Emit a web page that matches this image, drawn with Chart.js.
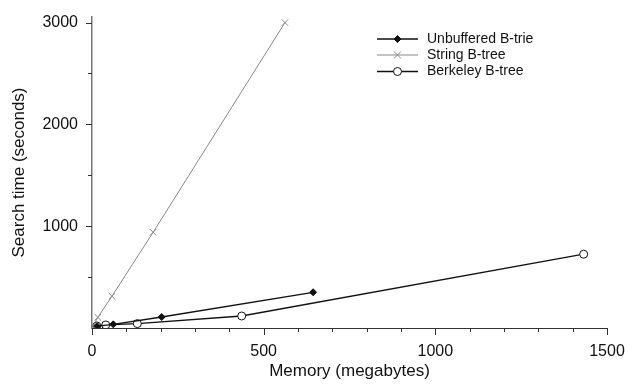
<!DOCTYPE html>
<html>
<head>
<meta charset="utf-8">
<script src="https://cdn.jsdelivr.net/npm/chart.js@4/dist/chart.umd.min.js"></script>
<style>
  html,body{margin:0;padding:0;background:#fff;}
  #wrap{width:629px;height:387px;position:relative;}
</style>
</head>
<body>
<div id="wrap"><canvas id="c" width="629" height="387"></canvas></div>
<script>
// ---- data ----
const seriesNames = ['Unbuffered B-trie', 'String B-tree', 'Berkeley B-tree'];
const trieX = [15, 62, 203, 644];
const trieY = [18, 36, 108, 351];
const stringX = [2, 17, 58, 178, 562];
const stringY = [15, 105, 312, 940, 3000];
const berkX = [14, 40, 132, 436, 1432];
const berkY = [20, 30, 43, 118, 725];

const xMajorTicks = [0, 500, 1000, 1500];
const xMinorTicks = [100, 200, 300, 400, 600, 700, 800, 900, 1100, 1200, 1300, 1400];
const yMajorTicks = [1000, 2000, 3000];
const yMinorTicks = [500, 1500, 2500];
const xTitle = 'Memory (megabytes)';
const yTitle = 'Search time (seconds)';

const zip = (xs, ys) => xs.map((x, i) => ({x: x, y: ys[i]}));
const FONT = 'Liberation Sans, Arial, Helvetica, sans-serif';

const tickMarks = {
  id: 'tickMarks',
  afterDraw(chart) {
    const ctx = chart.ctx;
    const xs = chart.scales.x, ys = chart.scales.y;
    const y0 = ys.bottom, x0 = xs.left;
    ctx.save();
    ctx.strokeStyle = '#333';
    ctx.lineWidth = 1;
    ctx.beginPath();
    xMajorTicks.forEach(v => { const p = Math.round(xs.getPixelForValue(v)) + 0.5; ctx.moveTo(p, y0); ctx.lineTo(p, y0 + 7); });
    xMinorTicks.forEach(v => { const p = Math.round(xs.getPixelForValue(v)) + 0.5; ctx.moveTo(p, y0); ctx.lineTo(p, y0 + 4); });
    yMajorTicks.forEach(v => { const p = Math.round(ys.getPixelForValue(v)) + 0.5; ctx.moveTo(x0, p); ctx.lineTo(x0 - 6, p); });
    yMinorTicks.forEach(v => { const p = Math.round(ys.getPixelForValue(v)) + 0.5; ctx.moveTo(x0, p); ctx.lineTo(x0 - 4, p); });
    ctx.stroke();
    ctx.restore();
  }
};

function drawMarker(ctx, style, x, y, r, stroke, fill) {
  ctx.beginPath();
  if (style === 'rectRot') {
    ctx.moveTo(x, y - r); ctx.lineTo(x + r, y); ctx.lineTo(x, y + r); ctx.lineTo(x - r, y); ctx.closePath();
    ctx.fillStyle = fill; ctx.fill(); ctx.strokeStyle = stroke; ctx.stroke();
  } else if (style === 'crossRot') {
    const d = r * 0.75;
    ctx.moveTo(x - d, y - d); ctx.lineTo(x + d, y + d);
    ctx.moveTo(x + d, y - d); ctx.lineTo(x - d, y + d);
    ctx.strokeStyle = stroke; ctx.stroke();
  } else {
    ctx.arc(x, y, r, 0, Math.PI * 2);
    ctx.fillStyle = fill; ctx.fill(); ctx.strokeStyle = stroke; ctx.stroke();
  }
}

const customLegend = {
  id: 'customLegend',
  afterDraw(chart) {
    const ctx = chart.ctx;
    ctx.save();
    const lx0 = 377, lx1 = 418, tx = 427;
    const rows = [39, 55, 71.5];
    chart.data.datasets.forEach((ds, i) => {
      const y = rows[i];
      ctx.lineWidth = ds.borderWidth;
      ctx.strokeStyle = ds.borderColor;
      ctx.beginPath(); ctx.moveTo(lx0, y); ctx.lineTo(lx1, y); ctx.stroke();
      ctx.lineWidth = 1;
      drawMarker(ctx, ds.pointStyle, (lx0 + lx1) / 2, y, ds.pointRadius, ds.pointBorderColor, ds.pointBackgroundColor);
      ctx.fillStyle = '#111';
      ctx.font = '14px ' + FONT;
      ctx.textBaseline = 'middle';
      ctx.textAlign = 'left';
      ctx.fillText(ds.label, tx, y);
    });
    ctx.restore();
  }
};

new Chart(document.getElementById('c'), {
  type: 'scatter',
  data: {
    datasets: [
      { label: seriesNames[0], data: zip(trieX, trieY), showLine: true,
        borderColor: '#111', borderWidth: 1.3, pointStyle: 'rectRot', pointRadius: 3.5,
        pointBackgroundColor: '#111', pointBorderColor: '#111', pointBorderWidth: 1 },
      { label: seriesNames[1], data: zip(stringX, stringY), showLine: true,
        borderColor: '#8a8a8a', borderWidth: 1, pointStyle: 'crossRot', pointRadius: 4.5,
        pointBackgroundColor: '#8a8a8a', pointBorderColor: '#8a8a8a', pointBorderWidth: 1 },
      { label: seriesNames[2], data: zip(berkX, berkY), showLine: true,
        borderColor: '#111', borderWidth: 1.3, pointStyle: 'circle', pointRadius: 4,
        pointBackgroundColor: '#fff', pointBorderColor: '#111', pointBorderWidth: 1 }
    ]
  },
  options: {
    responsive: false,
    animation: false,
    events: [],
    layout: { padding: { left: 0, right: 22, top: 17, bottom: 0 } },
    plugins: { legend: { display: false }, tooltip: { enabled: false } },
    scales: {
      x: {
        type: 'linear', min: 0, max: 1500,
        afterFit(scale) { scale.height = 59; scale.paddingLeft = 0; scale.paddingRight = 0; },
        afterBuildTicks(scale) { scale.ticks = xMajorTicks.map(v => ({value: v})); },
        grid: { display: false, drawTicks: false },
        border: { display: true, color: '#333', width: 1 },
        ticks: { padding: 14, color: '#111', font: { family: FONT, size: 16 }, maxRotation: 0, autoSkip: false,
                 callback: v => String(v) },
        title: { display: true, text: xTitle, color: '#111', font: { family: FONT, size: 17 }, padding: { top: 0, bottom: 5 } }
      },
      y: {
        type: 'linear', min: 0, max: 3055,
        afterFit(scale) { scale.width = 92; scale.paddingTop = 0; scale.paddingBottom = 0; },
        afterBuildTicks(scale) { scale.ticks = yMajorTicks.map(v => ({value: v})); },
        grid: { display: false, drawTicks: false },
        border: { display: true, color: '#777', width: 1.5 },
        ticks: { padding: 14, color: '#111', font: { family: FONT, size: 16 }, autoSkip: false,
                 callback: v => String(v) },
        title: { display: true, text: yTitle, color: '#111', font: { family: FONT, size: 17 }, padding: { top: 9, bottom: 0 } }
      }
    }
  },
  plugins: [tickMarks, customLegend]
});
</script>
</body>
</html>
